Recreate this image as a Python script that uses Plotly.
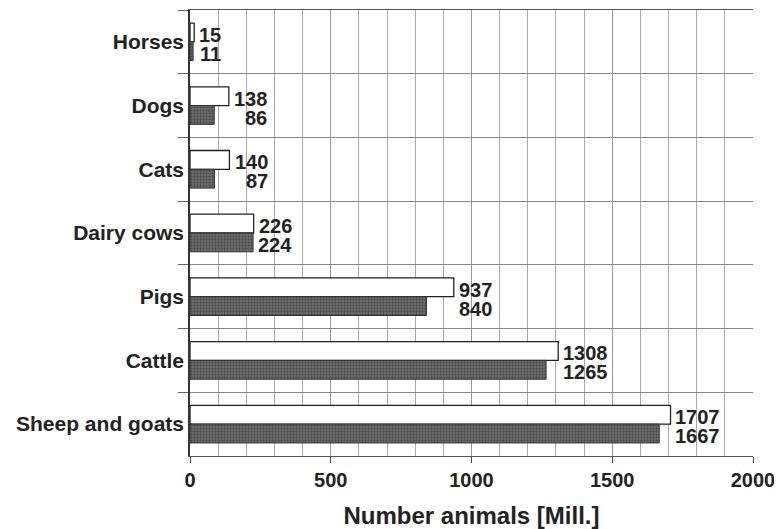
import plotly.graph_objects as go

categories = ["Horses", "Dogs", "Cats", "Dairy cows", "Pigs", "Cattle", "Sheep and goats"]
values_white = [15, 138, 140, 226, 937, 1308, 1707]
values_dark = [11, 86, 87, 224, 840, 1265, 1667]
x_ticks = [0, 500, 1000, 1500, 2000]

FONT = "Liberation Sans, Arial, sans-serif"
FS = 20
DIGIT_W = 0.556 * FS

fig = go.Figure()
fig.add_trace(go.Bar(
    y=categories, x=values_white, orientation="h", name="A",
    marker=dict(color="white", line=dict(color="#222", width=1.3)),
))
fig.add_trace(go.Bar(
    y=categories, x=values_dark, orientation="h", name="B",
    marker=dict(color="#555", line=dict(color="#333", width=1),
                pattern=dict(shape=".", fgcolor="#262626", bgcolor="#737373", size=3, solidity=0.5)),
))

for c, a, b in zip(categories, values_white, values_dark):
    w = max(len(str(a)), len(str(b))) * DIGIT_W
    for v, ys in ((a, 7), (b, -12)):
        fig.add_annotation(
            x=max(a, b), y=c, text=str(v), showarrow=False,
            xanchor="right", yanchor="middle", xshift=7 + w, yshift=ys,
            font=dict(family=FONT, size=FS, color="#222", weight="bold"),
        )

fig.update_layout(
    width=774, height=521,
    margin=dict(l=182, r=29, t=2, b=73, autoexpand=False),
    paper_bgcolor="white", plot_bgcolor="white",
    barmode="group", bargap=0.41, bargroupgap=0,
    showlegend=False,
    font=dict(family=FONT, size=FS, color="#222", weight="bold"),
)
fig.update_xaxes(
    range=[0, 2000], tickvals=x_ticks, ticktext=[str(t) for t in x_ticks],
    showgrid=True, gridcolor="#999", gridwidth=1,
    minor=dict(dtick=100, showgrid=True, gridcolor="#aaa", gridwidth=1),
    showline=True, linecolor="#555", linewidth=1, mirror=True,
    ticks="outside", ticklen=6, tickcolor="#444",
    zeroline=False, automargin=False,
    title=dict(text="Number animals [Mill.]", font=dict(family=FONT, size=24, weight="bold"), standoff=17),
    tickfont=dict(family=FONT, size=FS, weight="bold"),
)
fig.update_yaxes(
    categoryorder="array", categoryarray=categories, autorange="reversed",
    tickson="boundaries", showgrid=True, gridcolor="#888", gridwidth=1,
    ticks="outside", ticklen=10, tickcolor="#666",
    showline=True, linecolor="#333", linewidth=1.5, mirror=False,
    automargin=False,
    tickfont=dict(family=FONT, size=21, weight="bold"),
    ticklabelstandoff=0,
)

fig.write_html("out.html")
